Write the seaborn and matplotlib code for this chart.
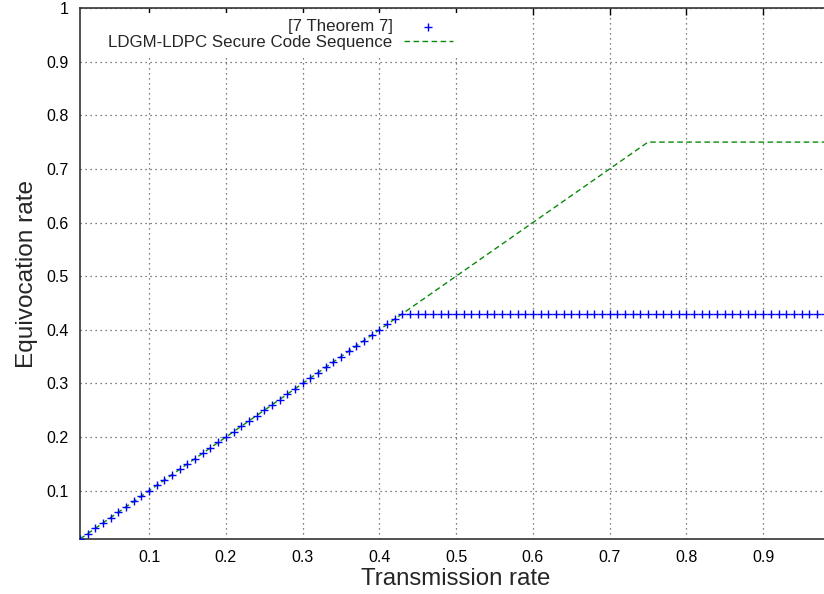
import matplotlib
matplotlib.use("Agg")
import matplotlib.pyplot as plt
import seaborn as sns
import pandas as pd

# Data
theorem_x = [0.01, 0.02, 0.03, 0.04, 0.05, 0.06, 0.07, 0.08, 0.09, 0.10,
             0.11, 0.12, 0.13, 0.14, 0.15, 0.16, 0.17, 0.18, 0.19, 0.20,
             0.21, 0.22, 0.23, 0.24, 0.25, 0.26, 0.27, 0.28, 0.29, 0.30,
             0.31, 0.32, 0.33, 0.34, 0.35, 0.36, 0.37, 0.38, 0.39, 0.40,
             0.41, 0.42, 0.43, 0.44, 0.45, 0.46, 0.47, 0.48, 0.49, 0.50,
             0.51, 0.52, 0.53, 0.54, 0.55, 0.56, 0.57, 0.58, 0.59, 0.60,
             0.61, 0.62, 0.63, 0.64, 0.65, 0.66, 0.67, 0.68, 0.69, 0.70,
             0.71, 0.72, 0.73, 0.74, 0.75, 0.76, 0.77, 0.78, 0.79, 0.80,
             0.81, 0.82, 0.83, 0.84, 0.85, 0.86, 0.87, 0.88, 0.89, 0.90,
             0.91, 0.92, 0.93, 0.94, 0.95, 0.96, 0.97, 0.98]
theorem_y = [0.01, 0.02, 0.03, 0.04, 0.05, 0.06, 0.07, 0.08, 0.09, 0.10,
             0.11, 0.12, 0.13, 0.14, 0.15, 0.16, 0.17, 0.18, 0.19, 0.20,
             0.21, 0.22, 0.23, 0.24, 0.25, 0.26, 0.27, 0.28, 0.29, 0.30,
             0.31, 0.32, 0.33, 0.34, 0.35, 0.36, 0.37, 0.38, 0.39, 0.40,
             0.41, 0.42, 0.43, 0.43, 0.43, 0.43, 0.43, 0.43, 0.43, 0.43,
             0.43, 0.43, 0.43, 0.43, 0.43, 0.43, 0.43, 0.43, 0.43, 0.43,
             0.43, 0.43, 0.43, 0.43, 0.43, 0.43, 0.43, 0.43, 0.43, 0.43,
             0.43, 0.43, 0.43, 0.43, 0.43, 0.43, 0.43, 0.43, 0.43, 0.43,
             0.43, 0.43, 0.43, 0.43, 0.43, 0.43, 0.43, 0.43, 0.43, 0.43,
             0.43, 0.43, 0.43, 0.43, 0.43, 0.43, 0.43, 0.43]
ldgm_x = [0.01, 0.75, 0.99]
ldgm_y = [0.01, 0.75, 0.75]

xticks = [0.1, 0.2, 0.3, 0.4, 0.5, 0.6, 0.7, 0.8, 0.9]
xticklabels = ["0.1", "0.2", "0.3", "0.4", "0.5", "0.6", "0.7", "0.8", "0.9"]
yticks = [0.1, 0.2, 0.3, 0.4, 0.5, 0.6, 0.7, 0.8, 0.9, 1.0]
yticklabels = ["0.1", "0.2", "0.3", "0.4", "0.5", "0.6", "0.7", "0.8", "0.9", "1"]

sns.set_style("white")
plt.rcParams['font.family'] = ['Liberation Sans', 'DejaVu Sans']

fig = plt.figure(figsize=(8.24, 5.94), dpi=100)
ax = fig.add_axes([80 / 824, 1 - 539 / 594, 1 - 80 / 824 + 0.01, (539 - 8) / 594])

df_t = pd.DataFrame({"x": theorem_x, "y": theorem_y})
df_l = pd.DataFrame({"x": ldgm_x, "y": ldgm_y})

sns.lineplot(data=df_l, x="x", y="y", ax=ax, color="#0a8a0a", linewidth=1.0,
             linestyle=(0, (4, 2.5)), label="LDGM-LDPC Secure Code Sequence", zorder=3)
sns.scatterplot(data=df_t, x="x", y="y", ax=ax, marker="+", color="#0000ff",
                s=36, linewidth=1.0, label="[7 Theorem 7]", zorder=4)

ax.set_xlim(0.01, 0.99)
ax.set_ylim(0.01, 1.0)
ax.set_xticks(xticks)
ax.set_xticklabels(xticklabels)
ax.set_yticks(yticks)
ax.set_yticklabels(yticklabels)
ax.tick_params(direction="in", length=5, width=1, labelsize=11.5, colors="black",
               top=True, right=True, pad=8)
ax.grid(True, linestyle=(0, (1, 3)), color="#555555", linewidth=0.9)
for s in ax.spines.values():
    s.set_color("#333333")
    s.set_linewidth(1.2)

ax.set_xlabel("Transmission rate", fontsize=17.3, labelpad=2)
ax.set_ylabel("Equivocation rate", fontsize=17.6, labelpad=6)

handles, labels = ax.get_legend_handles_labels()
order = [labels.index("[7 Theorem 7]"), labels.index("LDGM-LDPC Secure Code Sequence")]
leg = ax.legend([handles[i] for i in order], [labels[i] for i in order],
                loc="upper right", bbox_to_anchor=(468 / 824, 0.993),
                bbox_transform=fig.transFigure, frameon=True, facecolor="white",
                edgecolor="none", framealpha=1.0, fancybox=False,
                markerfirst=False, fontsize=12.2, handlelength=2.9, handletextpad=0.65,
                labelspacing=0.05, borderpad=0.4)
leg.set_zorder(2.4)
for t in leg.get_texts():
    t.set_ha("right")
leg._legend_box.align = "right"

fig.savefig("out.png", dpi=100)
